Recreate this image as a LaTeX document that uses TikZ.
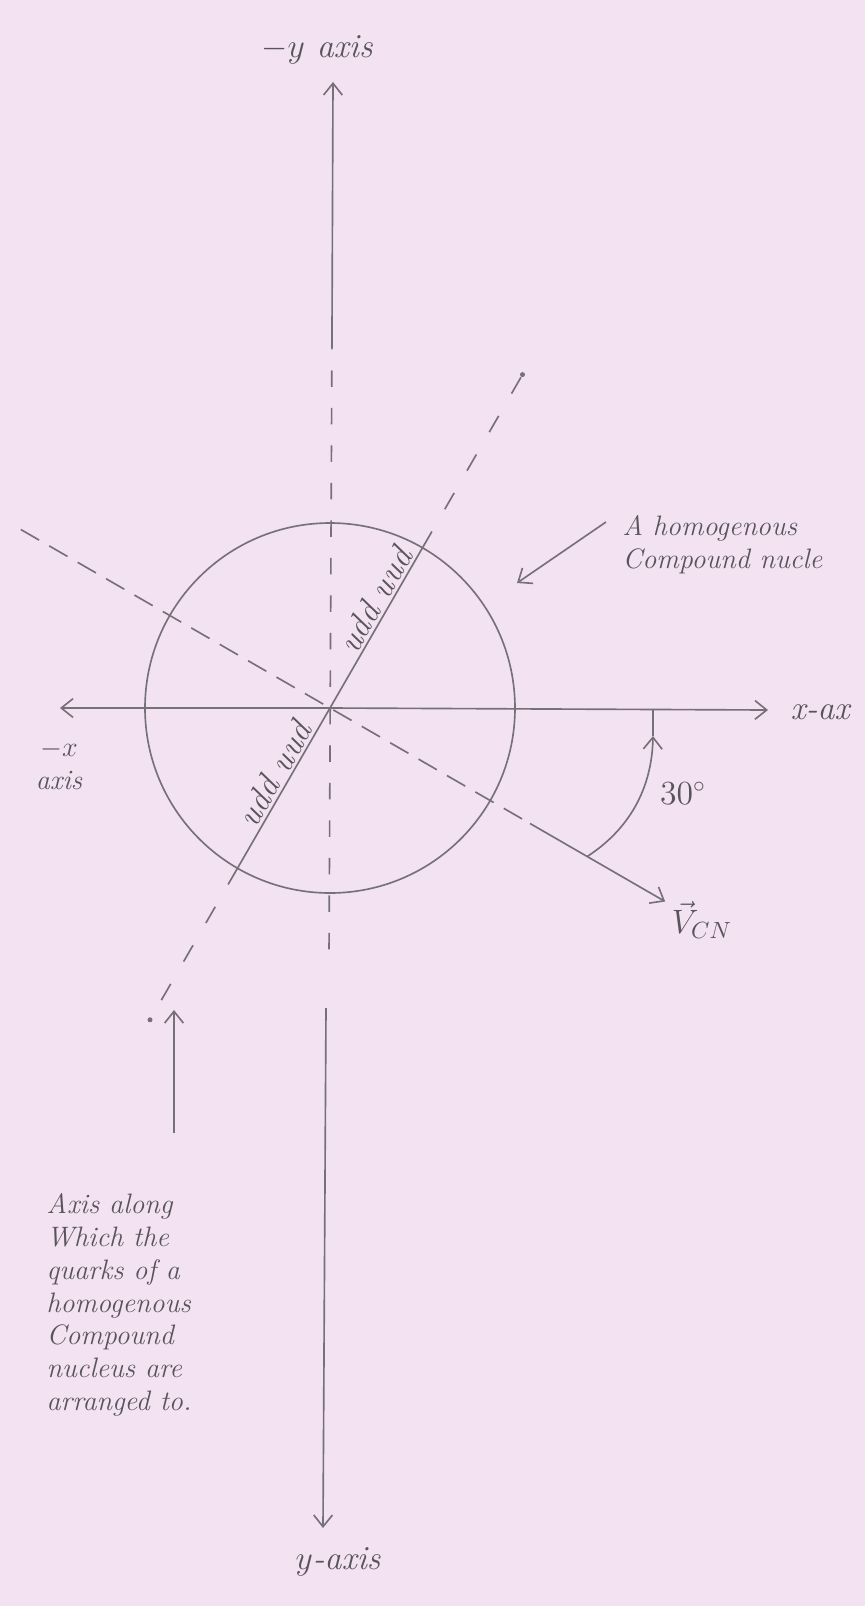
\documentclass[tikz,border=0pt]{standalone}
\usetikzlibrary{arrows.meta,calc}

\definecolor{paper}{RGB}{243,226,242}
\definecolor{pencil}{RGB}{118,112,122}
\definecolor{ink}{RGB}{88,84,92}

\begin{document}
\begin{tikzpicture}[x=0.015cm, y=-0.015cm,
	>={Straight Barb[length=5pt,width=8pt]}, line width=0.7pt,
	pen/.style={draw=pencil},
	ydash/.style={pen, dash pattern=on 7pt off 9pt},
	vdash/.style={pen, dash pattern=on 9pt off 5pt},
	qdash/.style={pen, dash pattern=on 8pt off 11pt},
	hand/.style={text=ink, font=\large\itshape},
	quark/.style={text=ink, font=\Large\itshape, rotate=60, anchor=south, inner sep=1pt}]
	
	\fill[paper] (0,0) rectangle (865,1606);
	\useasboundingbox (0,0) rectangle (865,1606);
	
	\def\R{185}
	
	\coordinate (O) at (330,708);
	\coordinate (XL) at (60,708);
	\coordinate (XR) at (768,710);
	\coordinate (YT) at (333,82);
	\coordinate (Y1) at (332,333);
	\coordinate (Y2) at (329,957);
	\coordinate (Y3) at (326,1008);
	\coordinate (YB) at (323,1528);
	\coordinate (VA) at ($(O)+(210:357)$);
	\coordinate (VB) at ($(O)+(30:231)$);
	\coordinate (VC) at ($(O)+(30:387)$);
	\coordinate (QU) at ($(O)+(-60:\R)$);
	\coordinate (QE) at ($(O)+(-60:385)$);
	\coordinate (QL) at ($(O)+(120:\R)$);
	\coordinate (QF) at ($(O)+(120:360)$);
	\coordinate (AS) at ($(O)+(30:297)$);
	\coordinate (AT) at (653,736);
	\coordinate (AX) at (653,710);
	\coordinate (NT) at (606,522);
	\coordinate (NC) at (517,583);
	\coordinate (QA) at (174,1133);
	\coordinate (QT) at (174,1010);
	
	% nucleus and axes
	\draw[pen] (O) circle[radius=\R];
	\draw[pen,->] (O) -- (XR);
	\draw[pen,->] (O) -- (XL);
	\draw[pen,->] (Y1) -- (YT);
	\draw[ydash] (Y1) -- (Y2);
	\draw[pen,->] (Y3) -- (YB);
	
	\draw[vdash] (VA) -- (VB);
	\draw[pen,->] (VB) -- (VC);
	
	\draw[pen] (QL) -- (QU);
	\draw[qdash] (QU) -- (QE);
	\draw[qdash] (QL) -- (QF);
	\fill[pencil] (QE) circle[radius=2.5];
	\fill[pencil] (QF) circle[radius=2.5];
	
	\draw[pen,->] (AS) .. controls (628,830) and (652,790) .. (AT);
	\draw[pen] (AT) -- (AX);
	
	\node[hand, font=\Large\itshape] (ytop) at (317,50) {$-y$ axis};
	\node[hand, font=\Large\itshape] (ybot) at (338,1562) {$y$-axis};
	\node[hand, font=\Large\itshape, anchor=west] (xlab) at (782,712) {x-ax};
	\node[hand, align=center] (xneg) at (59,765) {$-x$\\axis};
	\node[hand, font=\Large] (ang) at (683,793) {$30^{\circ}$};
	\node[hand, font=\Large] (vlab) at (702,920) {$\vec{V}_{CN}$};
	\node[quark] (qup) at ($(O)+(-60:116)$) {udd uud};
	\node[quark] (qlo) at ($(O)+(120:85)$) {udd uud};
	
	\node[hand, align=left, anchor=north west] (nucnote) at (614,507)
	{A homogenous\\Compound nucle};
	\draw[pen,->] (NT) -- (NC);
	
	\node[hand, align=left, anchor=north west, font=\fontsize{12}{14}\selectfont\itshape] (qnote) at (38,1185)
	{Axis along\\Which the\\quarks of a\\homogenous\\Compound\\nucleus are\\arranged to.};
	\draw[pen,->] (QA) -- (QT);
	
\end{tikzpicture}
\end{document}
